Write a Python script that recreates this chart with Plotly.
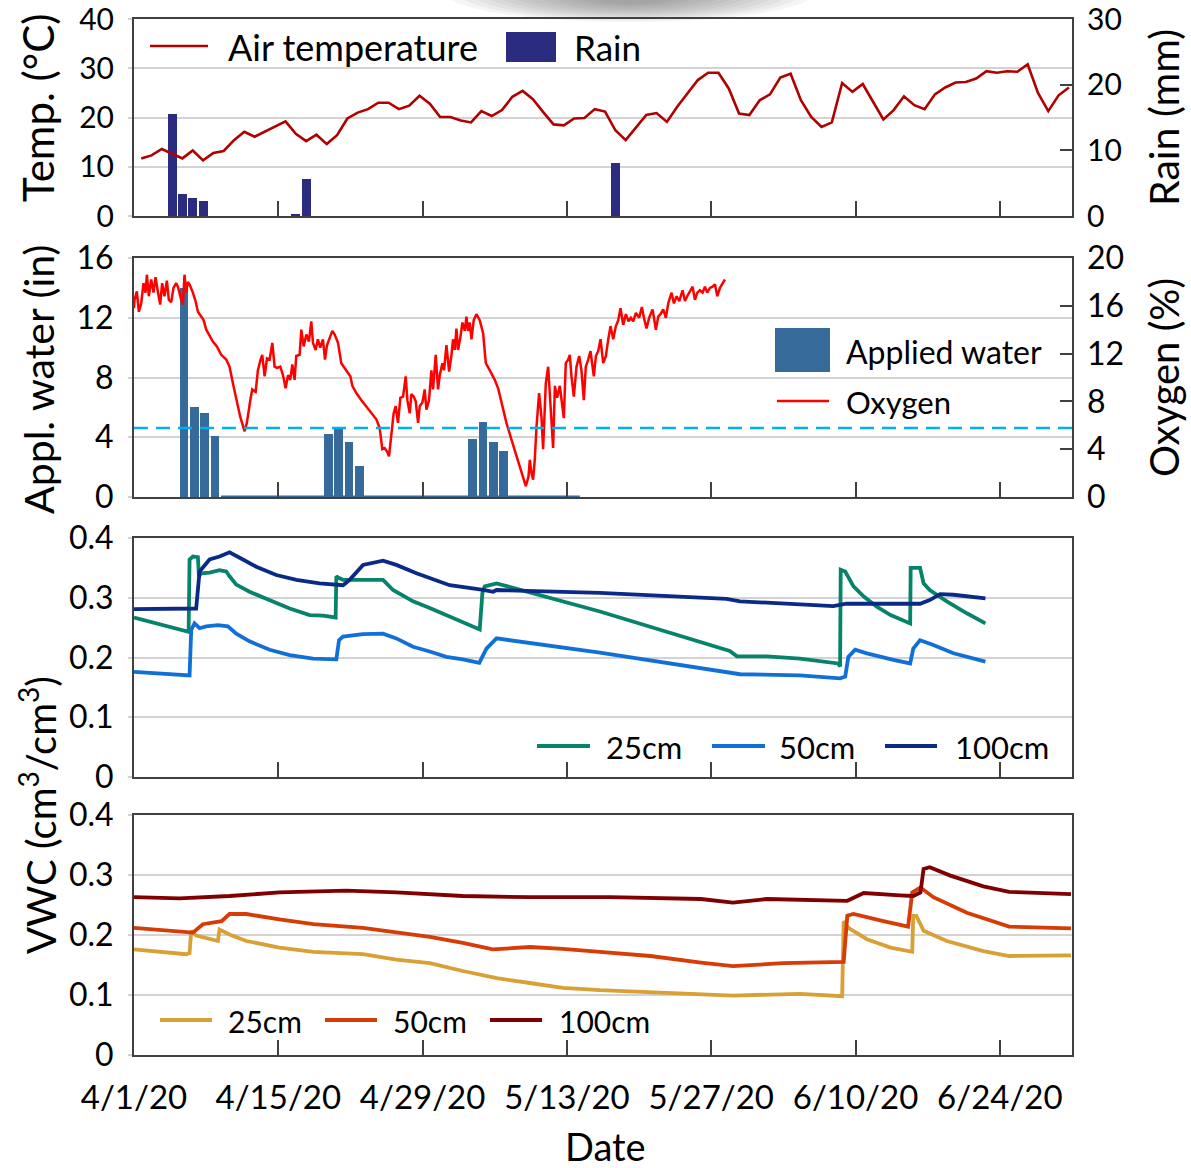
import pandas as pd
import plotly.graph_objects as go

# ---------------- data ----------------
START = "2020-04-01"
END = "2020-07-01"
TICK_DATES = ["2020-04-01", "2020-04-15", "2020-04-29", "2020-05-13",
              "2020-05-27", "2020-06-10", "2020-06-24"]
TICK_TEXT = ["4/1/20", "4/15/20", "4/29/20", "5/13/20", "5/27/20", "6/10/20", "6/24/20"]

# daily air temperature (deg C), one value per day from 4/1/20
AIR_TEMP = [11.7, 12.3, 13.6, 12.7, 11.7, 13.3, 11.3, 12.8, 13.2, 15.4,
            17.1, 16.1, 17.1, 18.2, 19.2, 16.7, 15.2, 16.5, 14.6, 16.4,
            19.8, 21.0, 21.7, 23.0, 23.0, 21.7, 22.4, 24.4, 22.8, 20.1,
            20.1, 19.4, 19.0, 21.3, 20.3, 21.5, 24.2, 25.4, 23.7, 21.1,
            18.6, 18.4, 19.8, 19.9, 21.7, 21.2, 17.4, 15.4, 18.0, 20.5,
            20.9, 19.1, 22.2, 25.0, 27.6, 29.1, 29.1, 25.9, 20.8, 20.5,
            23.5, 24.7, 28.1, 28.9, 23.5, 20.1, 18.1, 19.0, 27.0, 25.2,
            26.8, 23.2, 19.6, 21.5, 24.3, 22.5, 21.7, 24.7, 26.1, 27.1,
            27.2, 27.9, 29.4, 29.1, 29.4, 29.3, 30.8, 25.0, 21.3, 24.5, 26.1]

# rain (mm): day index from 4/1/20 and amount
RAIN_DAY = [3, 4, 5, 6, 15, 16, 46]
RAIN_MM = [15.6, 3.3, 2.8, 2.3, 0.35, 5.6, 8.1]

# applied water (in), days 4 .. 42 after 4/1/20
APPLIED_FIRST_DAY = 4
APPLIED_IN = [14.0, 6.0, 5.6, 4.1,
              0, 0, 0, 0, 0, 0, 0, 0, 0, 0,
              4.2, 4.6, 3.7, 2.1,
              0, 0, 0, 0, 0, 0, 0, 0, 0, 0,
              3.85, 5.0, 3.7, 3.05,
              0, 0, 0, 0, 0, 0, 0]
THRESHOLD_IN = 4.62

# soil oxygen (%), time in days after 4/1/20
OXY_DAY_A = [0.0, 0.05, 0.28, 0.47, 0.70, 0.92, 1.12, 1.25, 1.44, 1.67, 1.89, 2.09, 2.31,
             2.54, 2.73, 2.96, 3.19, 3.38, 3.61, 3.83, 4.09, 4.26, 4.58, 4.74, 4.90, 5.06,
             5.23, 5.39, 5.71, 5.97, 6.20, 6.36, 6.75, 7.01, 7.27, 7.65, 8.04, 8.46, 8.95,
             9.27, 9.60, 9.92, 10.31, 10.73, 10.95, 11.28, 11.47, 11.80, 12.02, 12.28, 12.44,
             12.67, 12.90, 13.16, 13.42, 13.64, 13.87, 14.19, 14.45, 14.71, 14.94, 15.16,
             15.36, 15.58, 15.74, 16.07, 16.23, 16.46, 16.72, 16.97, 17.20, 17.36, 17.62,
             17.84, 18.07, 18.33, 18.53, 18.72, 18.92]
OXY_PCT_A = [15.8, 16.5, 17.2, 15.5, 16.2, 17.9, 17.1, 18.6, 16.8, 18.2, 17.1, 18.4, 17.2,
             16.1, 17.9, 16.8, 18.1, 16.5, 16.3, 17.5, 17.9, 17.6, 16.5, 16.1, 18.6, 17.1,
             18.0, 17.8, 17.1, 16.4, 15.5, 15.3, 14.8, 14.0, 13.6, 13.0, 12.6, 11.9, 11.5,
             10.9, 9.5, 8.1, 6.7, 5.5, 6.2, 8.1, 9.0, 8.8, 10.6, 11.5, 11.9,
             10.1, 11.6, 11.5, 12.9, 10.9, 10.8, 10.9, 10.2, 9.1, 10.2, 9.8,
             11.1, 9.8, 11.8, 11.9, 14.0, 12.6, 13.6, 13.0, 14.7, 12.9, 12.3,
             13.2, 12.5, 13.2, 11.5, 12.7, 13.2]
OXY_DAY_B = [19.24, 19.47, 19.79, 20.11, 20.60, 20.99, 21.18, 21.57, 22.06, 22.54, 23.03,
             23.51, 23.83, 24.09, 24.32, 24.55, 24.74, 24.97, 25.19, 25.39, 25.61, 25.84,
             26.10, 26.36, 26.52, 26.75, 26.91, 27.14, 27.33, 27.56, 27.72, 27.98, 28.20,
             28.37, 28.62, 28.85, 29.01, 29.27, 29.50, 29.66, 29.92, 30.08, 30.31, 30.57,
             30.79, 30.95, 31.12, 31.28, 31.44, 31.67, 31.86, 32.09, 32.25, 32.41, 32.57,
             32.74, 32.96, 33.22, 33.54, 33.87, 34.13, 34.52, 35.00, 35.32, 35.65, 36.13,
             36.62, 37.10, 37.59, 38.01, 38.27]
OXY_PCT_B = [13.9, 13.6, 12.9, 11.2, 10.6, 10.1, 9.3, 8.7, 8.1, 7.6, 7.0,
             6.5, 5.8, 4.0, 4.1, 3.8, 3.4, 5.4, 7.0, 7.6, 6.2, 8.3,
             8.4, 10.1, 8.1, 7.0, 8.6, 8.4, 8.0, 6.2, 7.6, 7.9, 9.0,
             7.3, 8.1, 10.6, 9.0, 11.9, 9.0, 10.2, 11.2, 10.6, 12.7, 10.5,
             11.8, 13.2, 12.3, 14.1, 12.3, 13.4, 14.6, 13.9, 15.1, 13.9, 14.6,
             13.2, 14.8, 15.3, 14.8, 13.7, 11.2, 10.6, 9.8, 9.1, 7.9, 6.2,
             4.8, 3.4, 2.0, 0.9, 1.7]
OXY_DAY_C = [38.40, 38.56, 38.72, 38.88, 39.05, 39.30, 39.53, 39.69, 39.95, 40.18, 40.40,
             40.66, 40.83, 41.05, 41.31, 41.47, 41.70, 41.89, 42.12, 42.28, 42.44, 42.67,
             42.93, 43.19, 43.41, 43.64, 43.83, 44.06, 44.29, 44.61, 44.81, 45.03, 45.26,
             45.52, 45.78, 46.01, 46.23, 46.49, 46.75, 46.98, 47.20, 47.46, 47.72, 47.98,
             48.20, 48.43, 48.69, 49.01, 49.27, 49.47, 49.72, 49.98, 50.31, 50.63, 50.86,
             51.08, 51.34, 51.60, 51.83, 52.15, 52.38, 52.64, 52.90, 53.22, 53.45, 53.67,
             53.93, 54.19, 54.42, 54.65, 54.90, 55.16, 55.39, 55.61, 55.87, 56.13, 56.36,
             56.59, 56.85, 57.10, 57.33]
OXY_PCT_C = [3.1, 2.0, 1.45, 3.1, 5.9, 8.7, 6.7, 4.0, 9.5, 10.9, 8.1,
             4.1, 9.3, 8.3, 9.3, 8.1, 6.6, 11.2, 11.5, 11.9, 10.1, 8.4,
             10.9, 11.8, 10.6, 8.1, 10.9, 11.5, 12.2, 10.1, 11.8, 12.2, 13.2,
             11.2, 11.8, 13.2, 14.3, 13.2, 14.3, 14.8, 15.8, 14.4, 15.3, 14.7,
             15.0, 14.7, 15.4, 15.0, 15.9, 15.0, 14.1, 15.0, 15.7, 14.0, 15.1,
             15.3, 15.7, 15.0, 16.2, 17.1, 16.2, 16.8, 16.4, 17.3, 16.4, 16.8,
             17.2, 17.6, 16.5, 17.1, 17.3, 17.1, 17.6, 17.1, 17.5, 17.6, 17.8,
             16.8, 17.5, 17.9, 18.2]

# VWC, site 1 (cm3/cm3)
S1_25_DAY = [0.0, 5.06, 5.30, 5.39, 5.71, 6.20, 6.30, 6.52, 7.33, 8.30, 8.95, 9.27, 9.92,
             11.21, 13.16, 15.10, 17.04, 18.33, 19.56, 19.63, 19.89, 20.28, 22.22, 24.16,
             25.13, 27.07, 28.69, 30.30, 31.90, 33.54, 33.80, 34.03, 35.17, 45.20, 57.80,
             58.50, 61.40, 64.60, 68.30, 68.50, 68.56, 69.00, 69.80, 70.80, 72.06, 73.40,
             75.30, 75.35, 76.26, 76.60, 77.20, 78.85, 80.80, 82.60]
S1_25_VWC = [0.267, 0.243, 0.243, 0.364, 0.369, 0.368, 0.336, 0.341, 0.342, 0.346, 0.344,
             0.336, 0.322, 0.310, 0.296, 0.282, 0.271, 0.270, 0.267, 0.336, 0.333, 0.330,
             0.330, 0.330, 0.313, 0.294, 0.283, 0.271, 0.260, 0.247, 0.308, 0.319, 0.324,
             0.277, 0.211, 0.202, 0.202, 0.198, 0.190, 0.185, 0.347, 0.344, 0.319, 0.302,
             0.285, 0.271, 0.257, 0.350, 0.350, 0.324, 0.313, 0.294, 0.274, 0.257]
S1_50_DAY = [0.0, 5.39, 5.55, 5.87, 6.36, 7.00, 8.14, 9.11, 9.92, 11.21, 13.16, 15.10, 17.36,
             19.63, 19.89, 20.28, 22.22, 24.16, 25.45, 27.07, 28.69, 30.30, 31.90, 33.50,
             34.19, 35.17, 45.20, 57.80, 58.80, 64.60, 68.50, 69.00, 69.30, 69.96, 71.10,
             73.67, 75.30, 75.60, 76.26, 77.55, 79.50, 82.60]
S1_50_VWC = [0.176, 0.170, 0.246, 0.257, 0.249, 0.252, 0.254, 0.252, 0.240, 0.227, 0.213,
             0.204, 0.198, 0.197, 0.229, 0.235, 0.239, 0.240, 0.232, 0.218, 0.210, 0.201,
             0.197, 0.191, 0.215, 0.232, 0.208, 0.176, 0.172, 0.170, 0.165, 0.168, 0.201,
             0.213, 0.207, 0.196, 0.190, 0.215, 0.229, 0.221, 0.207, 0.193]
S1_100_DAY = [0.0, 5.71, 6.03, 6.36, 7.33, 8.30, 9.27, 10.57, 11.86, 13.80, 15.76, 18.00,
              20.28, 20.92, 22.22, 24.16, 25.45, 27.40, 30.63, 33.87, 34.84, 35.17, 45.20,
              57.50, 58.80, 67.85, 69.10, 76.26, 77.20, 78.20, 79.50, 82.60]
S1_100_VWC = [0.281, 0.281, 0.282, 0.344, 0.364, 0.369, 0.376, 0.364, 0.352, 0.338, 0.330,
              0.324, 0.321, 0.330, 0.355, 0.362, 0.355, 0.341, 0.321, 0.313, 0.310, 0.313,
              0.308, 0.298, 0.294, 0.286, 0.290, 0.290, 0.296, 0.306, 0.305, 0.299]

# VWC, site 2 (cm3/cm3)
S2_25_DAY = [0.0, 5.06, 5.39, 5.55, 6.04, 8.14, 8.30, 9.27, 10.90, 14.10, 17.40, 22.20,
             25.45, 28.70, 31.90, 35.20, 38.40, 41.60, 45.20, 51.70, 58.10, 64.60, 68.70,
             68.85, 69.30, 71.10, 73.40, 75.50, 75.60, 75.90, 76.60, 78.85, 82.40, 84.90, 90.90]
S2_25_VWC = [0.176, 0.168, 0.170, 0.207, 0.199, 0.190, 0.209, 0.201, 0.190, 0.179, 0.172,
             0.168, 0.159, 0.153, 0.140, 0.128, 0.120, 0.112, 0.108, 0.104, 0.099, 0.102,
             0.098, 0.223, 0.212, 0.193, 0.179, 0.172, 0.232, 0.232, 0.207, 0.190, 0.173,
             0.165, 0.166]
S2_50_DAY = [0.0, 5.71, 6.68, 8.00, 8.50, 9.27, 10.90, 14.10, 17.40, 22.20, 25.45, 28.70,
             31.90, 34.80, 38.40, 41.60, 45.20, 50.10, 55.00, 58.10, 62.99, 68.85, 69.20,
             69.80, 72.70, 75.10, 75.50, 76.30, 77.55, 80.80, 84.90, 90.90]
S2_50_VWC = [0.212, 0.204, 0.218, 0.222, 0.223, 0.235, 0.235, 0.226, 0.218, 0.212, 0.204,
             0.197, 0.187, 0.176, 0.180, 0.177, 0.172, 0.165, 0.154, 0.148, 0.153, 0.155,
             0.232, 0.235, 0.223, 0.214, 0.271, 0.279, 0.263, 0.237, 0.214, 0.211]
S2_100_DAY = [0.0, 4.42, 9.27, 14.10, 20.60, 25.45, 31.90, 38.40, 46.20, 55.00, 58.10,
              61.40, 69.20, 70.80, 74.30, 75.60, 76.30, 76.60, 77.20, 79.20, 82.40, 84.90, 90.90]
S2_100_VWC = [0.263, 0.261, 0.265, 0.271, 0.274, 0.271, 0.265, 0.263, 0.263, 0.260, 0.254,
              0.260, 0.257, 0.270, 0.266, 0.265, 0.271, 0.310, 0.313, 0.299, 0.281, 0.272, 0.268]

# ---------------- helpers ----------------
BASE = pd.Timestamp(START)
DAILY_OFFSET = 0.7      # daily values are drawn late in each day
BAR_OFFSET = 0.85


def to_dates(days, offset=0.0):
    return [BASE + pd.Timedelta(days=float(d) + offset) for d in days]


FONT = "Lato"
C_TEMP = "#B00000"
C_RAIN = "#2B2B7F"
C_APPL = "#356A9B"
C_OXY = "#FF0000"
C_THR = "#00B0F0"
C1 = ["#07836A", "#1170D8", "#0B2A87"]
C2 = ["#D8A035", "#D63C05", "#7F0000"]
GRID = "#D3D3D3"
FRAME = "#404040"

fig = go.Figure()

# panel 1: rain (base axis y, right side) and temperature (overlay y5, left)
fig.add_trace(go.Bar(x=to_dates(RAIN_DAY, DAILY_OFFSET), y=RAIN_MM, xaxis="x", yaxis="y",
                     marker=dict(color=C_RAIN, line=dict(width=0)), width=0.87 * 86400000,
                     name="Rain"))
fig.add_trace(go.Scatter(x=to_dates(range(len(AIR_TEMP)), DAILY_OFFSET), y=AIR_TEMP,
                         xaxis="x", yaxis="y5", mode="lines",
                         line=dict(color=C_TEMP, width=2.6), name="Air temperature"))

# panel 2: applied water (y2, left) and oxygen (y6, right)
appl_days = [APPLIED_FIRST_DAY + i for i in range(len(APPLIED_IN))]
zero_days = [d for d, v in zip(appl_days, APPLIED_IN) if v == 0]
fig.add_trace(go.Scatter(x=to_dates([zero_days[0] - 0.4, zero_days[-1] + 0.4], BAR_OFFSET),
                         y=[0, 0], xaxis="x2", yaxis="y2", mode="lines",
                         line=dict(color=C_APPL, width=3), showlegend=False))
fig.add_trace(go.Bar(x=to_dates(appl_days, BAR_OFFSET), y=APPLIED_IN, xaxis="x2", yaxis="y2",
                     marker=dict(color=C_APPL, line=dict(width=0)), width=0.84 * 86400000,
                     name="Applied water"))
fig.add_trace(go.Scatter(x=to_dates(OXY_DAY_A + OXY_DAY_B + OXY_DAY_C),
                         y=OXY_PCT_A + OXY_PCT_B + OXY_PCT_C,
                         xaxis="x2", yaxis="y6", mode="lines",
                         line=dict(color=C_OXY, width=2.5), name="Oxygen"))

# panel 3
for d, v, c, n in [(S1_25_DAY, S1_25_VWC, C1[0], "25cm"),
                   (S1_50_DAY, S1_50_VWC, C1[1], "50cm"),
                   (S1_100_DAY, S1_100_VWC, C1[2], "100cm")]:
    fig.add_trace(go.Scatter(x=to_dates(d), y=v, xaxis="x3", yaxis="y3", mode="lines",
                             line=dict(color=c, width=3.8), name=n))
# panel 4
for d, v, c, n in [(S2_25_DAY, S2_25_VWC, C2[0], "25cm"),
                   (S2_50_DAY, S2_50_VWC, C2[1], "50cm"),
                   (S2_100_DAY, S2_100_VWC, C2[2], "100cm")]:
    fig.add_trace(go.Scatter(x=to_dates(d), y=v, xaxis="x4", yaxis="y4", mode="lines",
                             line=dict(color=c, width=3.8), name=n))

# ---------------- layout ----------------
W, H = 1191, 1168
L, R, T, B = 134, 1072, 19, 1055


def px(x):
    return (x - L) / (R - L)


def py(y):
    return (B - y) / (B - T)


D1 = [py(216), 1.0]
D2 = [py(497), py(258)]
D3 = [py(777), py(538)]
D4 = [0.0, py(815)]

XTICKFONT = dict(family=FONT, size=33, color="black")
YTICKFONT = dict(family=FONT, size=32, color="black")
TOPTICKFONT = dict(family=FONT, size=30, color="black")


def xax(anchor, labels):
    return dict(type="date", range=[START, END], domain=[0, 1], anchor=anchor,
                automargin=False, ticklabeloverflow="allow",
                tickmode="array", tickvals=TICK_DATES, ticktext=TICK_TEXT,
                showticklabels=labels, ticks="inside", ticklen=15, tickwidth=2,
                tickcolor=FRAME, showline=True, mirror=True, linecolor=FRAME, linewidth=2,
                showgrid=False, zeroline=False, tickfont=XTICKFONT, ticklabelstandoff=12)


def yleft(domain, rng, dtick, anchor, **kw):
    d = dict(domain=domain, range=rng, dtick=dtick, anchor=anchor, side="left",
             automargin=False, ticklabeloverflow="allow",
             showgrid=True, gridcolor=GRID, gridwidth=2, zeroline=False,
             showline=True, mirror=True, linecolor=FRAME, linewidth=2,
             ticks="outside", ticklen=4, tickcolor=GRID, tickwidth=2,
             tickfont=YTICKFONT, ticklabelstandoff=8)
    d.update(kw)
    return d


def yright(rng, dtick, anchor, **kw):
    d = dict(range=rng, dtick=dtick, anchor=anchor, side="right", showgrid=False,
             automargin=False, ticklabeloverflow="allow",
             zeroline=False, showline=False, ticks="inside", ticklen=12, tickwidth=2,
             tickcolor=FRAME, tickfont=YTICKFONT, ticklabelstandoff=14)
    d.update(kw)
    return d


layout = dict(
    width=W, height=H, autosize=False,
    margin=dict(l=L, r=W - R, t=T, b=H - B, pad=0, autoexpand=False),
    paper_bgcolor="white", plot_bgcolor="white",
    showlegend=False, bargap=0,
    font=dict(family=FONT, size=30, color="black"),
    xaxis=xax("y", False),
    xaxis2=xax("y2", False) | dict(matches="x"),
    xaxis3=xax("y3", False) | dict(matches="x"),
    xaxis4=xax("y4", True) | dict(matches="x"),
    yaxis=yright([0, 30], 10, "x", domain=D1, tickfont=TOPTICKFONT),
    yaxis5=yleft(None, [0, 40], 10, "x", overlaying="y", tickfont=TOPTICKFONT),
    yaxis2=yleft(D2, [0, 16], 4, "x2"),
    yaxis6=yright([0, 20], 4, "x2", overlaying="y2"),
    yaxis3=yleft(D3, [0, 0.4], 0.1, "x3"),
    yaxis4=yleft(D4, [0, 0.4], 0.1, "x4"),
)
layout["yaxis5"].pop("domain")
fig.update_layout(**layout)

# threshold line
fig.add_shape(type="line", xref="x2 domain", x0=0, x1=1, yref="y2",
              y0=THRESHOLD_IN, y1=THRESHOLD_IN,
              line=dict(color=C_THR, width=2.5, dash="14px,8px"))

# soft grey shadow at the top edge (as in the source picture)
N_SHADE = 12
for k in range(N_SHADE):
    f = k / (N_SHADE - 1)
    hw = 185 - 140 * f
    hh = 30 - 18 * f
    fig.add_shape(type="circle", xref="paper", yref="paper",
                  x0=px(630 - hw), x1=px(630 + hw), y0=py(-8 + hh), y1=py(-8 - hh),
                  fillcolor="#5A5A5A", opacity=0.06, line=dict(width=0), layer="below")

# ---------------- legends (drawn) ----------------
def leg_line(x0, x1, y, color, width):
    fig.add_shape(type="line", xref="paper", yref="paper", x0=px(x0), x1=px(x1),
                  y0=py(y), y1=py(y), line=dict(color=color, width=width))


def leg_box(x0, x1, y0, y1, color):
    fig.add_shape(type="rect", xref="paper", yref="paper", x0=px(x0), x1=px(x1),
                  y0=py(y1), y1=py(y0), fillcolor=color, line=dict(width=0))


def leg_text(x, y, text, size):
    fig.add_annotation(xref="paper", yref="paper", x=px(x), y=py(y), text=text,
                       showarrow=False, xanchor="left", yanchor="middle",
                       font=dict(family=FONT, size=size, color="black"))


leg_line(150, 208, 46, C_TEMP, 2.5)
leg_text(226, 47, "Air temperature", 36)
leg_box(506, 556, 32, 62, C_RAIN)
leg_text(572, 47, "Rain", 35)

leg_box(775, 830, 328, 372, C_APPL)
leg_text(844, 352, "Applied water", 32)
leg_line(777, 829, 401, C_OXY, 2.5)
leg_text(844, 402, "Oxygen", 31)

for (x0, x1, xt, t), c in zip([(537, 590, 604, "25cm"), (712, 765, 777, "50cm"),
                               (885, 937, 953, "100cm")], C1):
    leg_line(x0, x1, 746, c, 4)
    leg_text(xt, 747, t, 31)
for (x0, x1, xt, t), c in zip([(160, 212, 226, "25cm"), (325, 377, 391, "50cm"),
                               (490, 542, 557, "100cm")], C2):
    leg_line(x0, x1, 1020, c, 4)
    leg_text(xt, 1021, t, 30)

# ---------------- axis titles ----------------
def vtitle(x, y, text, size):
    fig.add_annotation(xref="paper", yref="paper", x=px(x), y=py(y), text=text,
                       textangle=-90, showarrow=False, xanchor="center",
                       yanchor="middle", font=dict(family=FONT, size=size, color="black"))


vtitle(38, 108, "Temp. (°C)", 42)
vtitle(38, 380, "Appl. water (in)", 41)
vtitle(38, 815, "VWC (cm<sup>3</sup>/cm<sup>3</sup>)", 40)
vtitle(1164, 118, "Rain (mm)", 41)
vtitle(1164, 378, "Oxygen (%)", 40)
fig.add_annotation(xref="paper", yref="paper", x=px(605), y=py(1146), text="Date",
                   showarrow=False, xanchor="center", yanchor="middle",
                   font=dict(family=FONT, size=38, color="black"))

fig.write_html("out.html")
